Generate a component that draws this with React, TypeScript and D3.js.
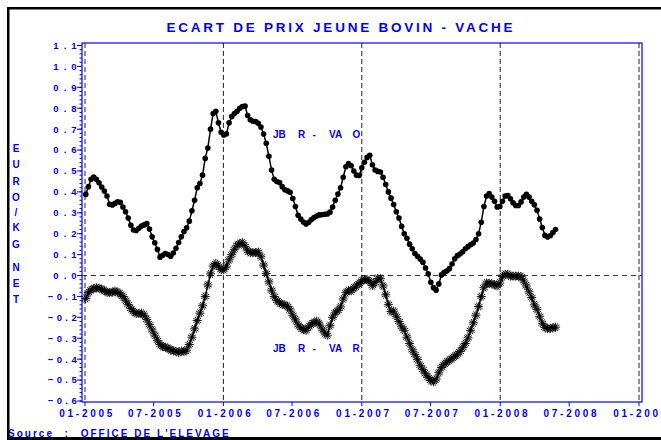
import React from "react";
import * as d3 from "d3";

// ---------- DATA ----------
const FIRST_WEEK = new Date(2005, 0, 3); // weekly observations
const vaO: number[] = [
  0.388, 0.425, 0.46, 0.471, 0.46, 0.444, 0.423, 0.404, 0.38, 0.341,
  0.337, 0.345, 0.353, 0.35, 0.328, 0.305, 0.275, 0.24, 0.218, 0.215,
  0.226, 0.237, 0.242, 0.248, 0.222, 0.185, 0.157, 0.125, 0.088, 0.097,
  0.105, 0.1, 0.092, 0.108, 0.13, 0.158, 0.185, 0.21, 0.228, 0.26,
  0.31, 0.36, 0.42, 0.44, 0.48, 0.56, 0.61, 0.7, 0.775, 0.785,
  0.73, 0.685, 0.672, 0.678, 0.73, 0.76, 0.775, 0.785, 0.8, 0.808,
  0.81, 0.765, 0.745, 0.738, 0.736, 0.728, 0.71, 0.677, 0.632, 0.57,
  0.505, 0.46, 0.45, 0.445, 0.425, 0.41, 0.405, 0.398, 0.368, 0.33,
  0.288, 0.27, 0.256, 0.247, 0.255, 0.268, 0.277, 0.285, 0.29, 0.291,
  0.293, 0.294, 0.303, 0.328, 0.36, 0.39, 0.42, 0.47, 0.52, 0.535,
  0.525, 0.5, 0.48, 0.478, 0.515, 0.542, 0.565, 0.575, 0.53, 0.505,
  0.498, 0.495, 0.47, 0.435, 0.4, 0.37, 0.34, 0.305, 0.275, 0.235,
  0.2, 0.178, 0.15, 0.128, 0.105, 0.092, 0.079, 0.064, 0.036, 0.008,
  -0.032, -0.058, -0.07, -0.04, 0.003, 0.015, 0.022, 0.033, 0.055, 0.08,
  0.095, 0.103, 0.114, 0.128, 0.138, 0.147, 0.155, 0.172, 0.2, 0.255,
  0.33, 0.38, 0.392, 0.375, 0.355, 0.328, 0.33, 0.355, 0.38, 0.382,
  0.367, 0.348, 0.335, 0.335, 0.352, 0.375, 0.388, 0.375, 0.355, 0.338,
  0.312, 0.27, 0.23, 0.192, 0.184, 0.19, 0.205, 0.22,
];
const vaR: number[] = [
  -0.11, -0.082, -0.068, -0.062, -0.059, -0.06, -0.066, -0.072, -0.08, -0.082,
  -0.08, -0.074, -0.08, -0.088, -0.1, -0.118, -0.138, -0.158, -0.172, -0.181,
  -0.182, -0.18, -0.19, -0.21, -0.235, -0.26, -0.285, -0.31, -0.33, -0.34,
  -0.343, -0.348, -0.356, -0.36, -0.363, -0.368, -0.361, -0.364, -0.357, -0.33,
  -0.295, -0.255, -0.215, -0.18, -0.145, -0.1, -0.045, 0.008, 0.045, 0.058,
  0.045, 0.028, 0.028, 0.045, 0.075, 0.1, 0.125, 0.145, 0.153, 0.157,
  0.14, 0.118, 0.11, 0.109, 0.11, 0.112, 0.09, 0.05, 0.01, -0.03,
  -0.07, -0.1, -0.12, -0.13, -0.138, -0.141, -0.148, -0.165, -0.19, -0.212,
  -0.236, -0.25, -0.258, -0.262, -0.245, -0.232, -0.225, -0.218, -0.232, -0.255,
  -0.275, -0.285, -0.24, -0.2, -0.178, -0.168, -0.15, -0.112, -0.082, -0.072,
  -0.073, -0.06, -0.05, -0.038, -0.026, -0.018, -0.02, -0.028, -0.048, -0.034,
  -0.014, -0.015, -0.05, -0.092, -0.138, -0.172, -0.17, -0.195, -0.22, -0.245,
  -0.262, -0.295, -0.325, -0.355, -0.378, -0.402, -0.43, -0.45, -0.47, -0.487,
  -0.502, -0.508, -0.495, -0.465, -0.44, -0.425, -0.414, -0.405, -0.396, -0.386,
  -0.377, -0.363, -0.345, -0.325, -0.298, -0.262, -0.226, -0.19, -0.148, -0.1,
  -0.058, -0.036, -0.037, -0.04, -0.043, -0.05, -0.036, -0.005, 0.006, 0.006,
  -0.003, -0.003, -0.003, -0.003, -0.005, -0.026, -0.05, -0.078, -0.105, -0.14,
  -0.162, -0.195, -0.228, -0.248, -0.254, -0.253, -0.25, -0.247,
];
const yTicks: number[] = [1.1, 1.0, 0.9, 0.8, 0.7, 0.6, 0.5, 0.4, 0.3, 0.2, 0.1, 0.0, -0.1, -0.2, -0.3, -0.4, -0.5, -0.6];
const xTickLabels: string[] = ["01-2005", "07-2005", "01-2006", "07-2006", "01-2007", "07-2007", "01-2008", "07-2008", "01-2009"];
const yearStarts: string[] = ["01-2005", "01-2006", "01-2007", "01-2008", "01-2009"];
const yTitleLetters: string[] = ["E", "U", "R", "O", "/", "K", "G", "N", "E", "T"];
const yTitleCenters: number[] = [148, 164.5, 181, 197, 212, 227.5, 244, 267, 283, 299];
const TITLE = "ECART DE PRIX JEUNE BOVIN - VACHE";
const SOURCE_LABEL = "Source";
const SOURCE_TEXT = "OFFICE DE L'ELEVAGE";
const seriesLabelTokens: string[][] = [
  ["JB", "R", "-", "VA", "O"],
  ["JB", "R", "-", "VA", "R"],
];

// ---------- STYLE ----------
const BLUE = "#0000ff";
const FONT = "'Liberation Sans', Arial, sans-serif";

const parseMY = (s: string) => {
  const [m, y] = s.split("-").map(Number);
  return new Date(y, m - 1, 1);
};

export default function App() {
  const x = d3.scaleTime().domain([new Date(2005, 0, 1), new Date(2009, 0, 1)]).range([85, 639]);
  const y = d3.scaleLinear().domain([-0.6, 1.1]).range([401, 45.5]);

  const s1 = vaO.map((v, i) => [d3.timeDay.offset(FIRST_WEEK, 7 * i), v] as [Date, number]);
  const s2 = vaR.map((v, i) => [d3.timeDay.offset(FIRST_WEEK, 7 * i), v] as [Date, number]);
  const line = d3
    .line<[Date, number]>()
    .x((d) => x(d[0]))
    .y((d) => y(d[1]));

  const frame = { left: 82, right: 642, top: 43, bottom: 402 };
  const minorTicks = d3.range(0, 86).map((k) => -0.6 + k * 0.02);

  const starR = 4.5;
  const starPath = [0, 30, 60, 90, 120, 150]
    .map((a) => {
      const r = (a * Math.PI) / 180;
      const dx = Math.cos(r) * starR;
      const dy = Math.sin(r) * starR;
      return `M${-dx},${-dy}L${dx},${dy}`;
    })
    .join("");

  const tokenX = [273, 298, 312.5, 329, 352.5];
  const labelBaselines = [137.7, 352.2];

  return (
    <svg
      width={661}
      height={440}
      style={{ position: "absolute", left: 0, top: 0, background: "#fff" }}
      fontFamily={FONT}
      fontWeight="bold"
    >
      <rect x={0} y={0} width={661} height={440} fill="#fff" />

      {/* title */}
      <text x={166.5} y={31.5} fontSize={13.5} fill={BLUE} textLength={346} lengthAdjust="spacing">
        {TITLE}
      </text>

      {/* y axis title */}
      {yTitleLetters.map((c, i) => (
        <text key={i} x={16} y={yTitleCenters[i] + 3.5} fontSize={10} fill={BLUE} textAnchor="middle">
          {c}
        </text>
      ))}

      {/* year separator dashed lines */}
      {yearStarts.map((s) => (
        <line
          key={s}
          x1={x(parseMY(s))}
          x2={x(parseMY(s))}
          y1={frame.top}
          y2={frame.bottom}
          stroke="#222"
          strokeWidth={1}
          strokeDasharray="5,3"
        />
      ))}
      {/* zero line */}
      <line x1={frame.left} x2={frame.right} y1={y(0)} y2={y(0)} stroke="#333" strokeWidth={1} strokeDasharray="5,4" />

      {/* frame */}
      <rect
        x={frame.left}
        y={frame.top}
        width={frame.right - frame.left}
        height={frame.bottom - frame.top}
        fill="none"
        stroke={BLUE}
        strokeWidth={1.2}
      />

      {/* y ticks */}
      {minorTicks.map((v, i) => (
        <line key={"m" + i} x1={frame.left - 2.5} x2={frame.left} y1={y(v)} y2={y(v)} stroke={BLUE} strokeWidth={1} />
      ))}
      {yTicks.map((v) => (
        <g key={"t" + v}>
          <line x1={frame.left - 5} x2={frame.left} y1={y(v)} y2={y(v)} stroke={BLUE} strokeWidth={1} />
          <text
            x={v < 0 ? 47.7 : 53.3}
            y={y(v) + 3.4}
            fontSize={9.5}
            fill={BLUE}
            textLength={v < 0 ? 29 : 23.3}
            lengthAdjust="spacing"
          >
            {d3.format(".1f")(v)}
          </text>
        </g>
      ))}

      {/* x ticks */}
      {xTickLabels.map((s) => {
        const px = x(parseMY(s));
        return (
          <g key={s}>
            <line x1={px} x2={px} y1={frame.bottom} y2={frame.bottom + 4} stroke={BLUE} strokeWidth={1} />
            <text x={px + 0.8} y={417} fontSize={10} fill={BLUE} textAnchor="middle" textLength={53} lengthAdjust="spacing">
              {s}
            </text>
          </g>
        );
      })}

      {/* series VA O : dots */}
      <path d={line(s1) || ""} fill="none" stroke="#000" strokeWidth={1.5} />
      {s1.map((d, i) => (
        <circle key={"c" + i} cx={x(d[0])} cy={y(d[1])} r={2.8} fill="#000" />
      ))}

      {/* series VA R : stars */}
      <path d={line(s2) || ""} fill="none" stroke="#000" strokeWidth={1.5} />
      {s2.map((d, i) => (
        <path
          key={"s" + i}
          d={starPath}
          transform={`translate(${x(d[0])},${y(d[1])})`}
          stroke="#000"
          strokeWidth={0.9}
          fill="none"
        />
      ))}

      {/* series labels */}
      {seriesLabelTokens.map((tokens, k) =>
        tokens.map((t, j) => (
          <text key={k + "-" + j} x={tokenX[j]} y={labelBaselines[k]} fontSize={10} fill={BLUE}>
            {t}
          </text>
        ))
      )}

      {/* source */}
      <text x={8} y={436.7} fontSize={10} fill={BLUE} textLength={44} lengthAdjust="spacing">
        {SOURCE_LABEL}
      </text>
      <text x={64.5} y={436.7} fontSize={10} fill={BLUE}>
        :
      </text>
      <text x={80.7} y={436.7} fontSize={10} fill={BLUE} textLength={148} lengthAdjust="spacing">
        {SOURCE_TEXT}
      </text>

      {/* outer black border */}
      <rect x={7} y={7} width={661} height={2.5} fill="#000" />
      <rect x={7} y={7} width={2.5} height={433} fill="#000" />
      <rect x={7} y={437} width={661} height={3} fill="#000" />
    </svg>
  );
}
